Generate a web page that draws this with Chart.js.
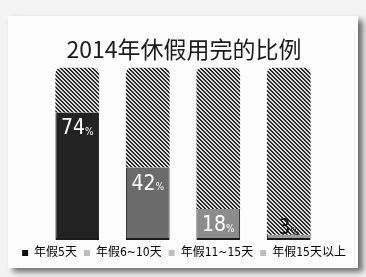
<!DOCTYPE html>
<html>
<head>
<meta charset="utf-8">
<script src="https://cdn.jsdelivr.net/npm/chart.js@4"></script>
<style>
  html, body { margin: 0; padding: 0; }
  body { width: 366px; height: 277px; background: #f3f3f3; position: relative; overflow: hidden; }
  #card { position: absolute; left: 8px; top: 16px; width: 350px; height: 252px; background: #fdfdfd;
          box-shadow: 5px 4px 6px rgba(0,0,0,0.55); }
  #wrap { position: absolute; left: 0; top: 0; width: 366px; height: 277px; }
</style>
</head>
<body>
<div id="card"></div>
<div id="wrap"><canvas id="chart" width="366" height="277"></canvas></div>
<script>
// ===== Data =====
const categories = ["年假5天", "年假6~10天", "年假11~15天", "年假15天以上"];
const usedShare = [74, 42, 18, 3];
const barColors = ["#222222", "#6b6b6b", "#8c8c8c", "#9c9c9c"];
const legendColors = ["#111111", "#bdbdbd", "#bdbdbd", "#bdbdbd"];
const titleText = "2014年休假用完的比例";

// ===== Hatch pattern for the unused part =====
function makeHatch() {
    const c = document.createElement("canvas");
    c.width = 4; c.height = 4;
    const g = c.getContext("2d");
    g.fillStyle = "#dcdcdc";
    g.fillRect(0, 0, 4, 4);
    g.fillStyle = "#2a2a2a";
    for (let i = 0; i < 4; i++) {
        g.fillRect(i, i, 1, 1);
        g.fillRect((i + 1) % 4, i, 1, 1);
    }
    return g.createPattern(c, "repeat");
}

// ===== Percent labels inside bars =====
const numFont = "21px 'DejaVu Sans Condensed', 'Liberation Sans Narrow', sans-serif";
const pctFont = "10px 'DejaVu Sans Condensed', sans-serif";
const percentLabels = {
    id: "percentLabels",
    afterDatasetsDraw(chart) {
        const ctx = chart.ctx;
        const meta = chart.getDatasetMeta(0);
        const bottom = chart.chartArea.bottom;
        meta.data.forEach((bar, i) => {
            const num = String(usedShare[i]);
            const tall = bottom - bar.y > 26;
            const top = tall ? bar.y + 6 : bottom - 22;
            ctx.save();
            ctx.fillStyle = tall ? "#ffffff" : "#111111";
            ctx.textBaseline = "top";
            ctx.font = numFont;
            const w1 = ctx.measureText(num).width;
            ctx.font = pctFont;
            const w2 = ctx.measureText("%").width;
            const x = bar.x - (w1 + w2) / 2;
            ctx.font = numFont;
            ctx.fillText(num, x, top);
            ctx.font = pctFont;
            ctx.fillText("%", x + w1, top + 9);
            ctx.restore();
        });
    }
};

// invisible side axes just to reserve room left and right of the bars
const spacerAxis = (pos, w) => ({
    position: pos,
    stacked: true,
    min: 0,
    max: 100,
    grid: { display: false },
    border: { display: false },
    ticks: { display: false },
    afterFit: (scale) => { scale.width = w; }
});

new Chart(document.getElementById("chart"), {
    type: "bar",
    data: {
        labels: categories,
        datasets: [
            {
                label: "用完",
                data: usedShare,
                backgroundColor: barColors,
                borderColor: "#1a1a1a",
                borderWidth: { left: 1, right: 1, top: 0, bottom: 2 },
                borderSkipped: false
            },
            {
                label: "未用完",
                data: usedShare.map(v => 100 - v),
                backgroundColor: makeHatch(),
                borderWidth: 0,
                borderRadius: { topLeft: 6, topRight: 6 },
                borderSkipped: false
            }
        ]
    },
    options: {
        responsive: false,
        animation: false,
        datasets: { bar: { barPercentage: 0.62, categoryPercentage: 1 } },
        layout: { padding: { top: 35, left: 14, right: 12, bottom: 8 } },
        scales: {
            x: { stacked: true, display: false },
            y: spacerAxis("left", 28),
            y2: spacerAxis("right", 30)
        },
        plugins: {
            title: {
                display: true,
                text: titleText,
                color: "#1a1a1a",
                font: { size: 23, family: "'Noto Sans CJK SC', serif", weight: "normal" },
                padding: { top: 0, bottom: 5 }
            },
            legend: {
                position: "bottom",
                labels: {
                    boxWidth: 6,
                    boxHeight: 6,
                    padding: 7,
                    color: "#111",
                    font: { size: 12, family: "'DejaVu Sans Condensed', 'Noto Sans CJK SC', sans-serif" },
                    generateLabels: () => categories.map((c, i) => ({
                        text: c,
                        fillStyle: legendColors[i],
                        strokeStyle: legendColors[i],
                        lineWidth: 0,
                        index: i
                    }))
                }
            },
            tooltip: { enabled: false }
        }
    },
    plugins: [percentLabels]
});
</script>
</body>
</html>
